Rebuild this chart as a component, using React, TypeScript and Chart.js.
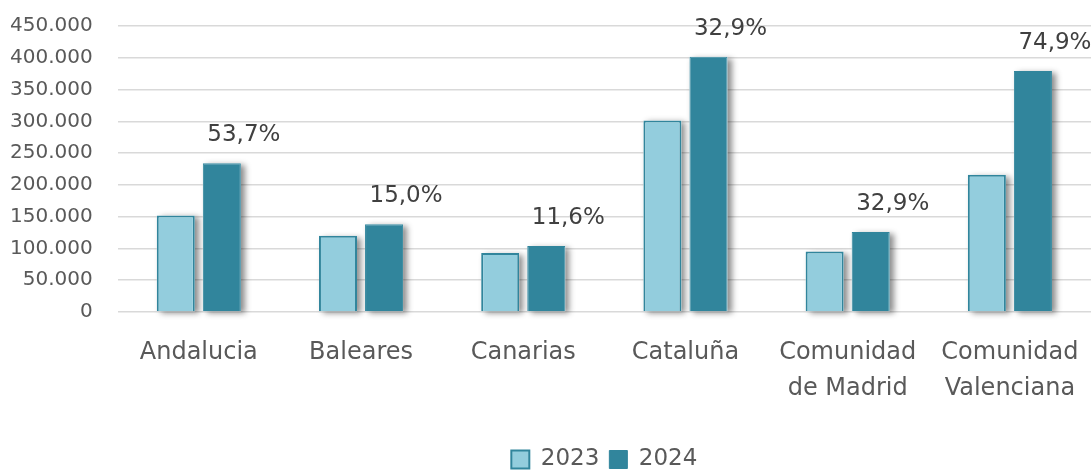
import React, { useEffect, useRef } from "react";
import { Chart, registerables } from "chart.js";

Chart.register(...registerables);

const categories: (string | string[])[] = [
  "Andalucia",
  "Baleares",
  "Canarias",
  "Cataluña",
  ["Comunidad", "de Madrid"],
  ["Comunidad", "Valenciana"],
];
const values2023 = [152000, 120000, 93000, 301500, 95000, 216000];
const values2024 = [234000, 138000, 104000, 401500, 126000, 379000];
const growthLabels = ["53,7%", "15,0%", "11,6%", "32,9%", "32,9%", "74,9%"];
const seriesNames = ["2023", "2024"];

const FONT = "'DejaVu Sans', sans-serif";
const TEXT = "#595959";

const shadowPlugin = {
  id: "barShadow",
  beforeDatasetsDraw(chart: any) {
    const ctx = chart.ctx;
    ctx.save();
    ctx.shadowColor = "rgba(0,0,0,0.45)";
    ctx.shadowBlur = 6;
    ctx.shadowOffsetX = 4;
    ctx.shadowOffsetY = 2;
    ctx.fillStyle = "#ffffff";
    chart.data.datasets.forEach((_: any, di: number) => {
      const meta = chart.getDatasetMeta(di);
      meta.data.forEach((bar: any) => {
        const { x, y, base, width } = bar.getProps(["x", "y", "base", "width"], true);
        ctx.fillRect(x - width / 2, y, width, base - y);
      });
    });
    ctx.restore();
  },
};

const growthPlugin = {
  id: "growthLabels",
  afterDatasetsDraw(chart: any) {
    const ctx = chart.ctx;
    const meta = chart.getDatasetMeta(1);
    ctx.save();
    ctx.font = `23px ${FONT}`;
    ctx.fillStyle = "#404040";
    ctx.textAlign = "center";
    ctx.textBaseline = "middle";
    meta.data.forEach((bar: any, i: number) => {
      ctx.fillText(growthLabels[i], bar.x + 22, bar.y - 28);
    });
    ctx.restore();
  },
};

export default function App() {
  const ref = useRef<HTMLCanvasElement | null>(null);
  useEffect(() => {
    if (!ref.current) return;
    const chart = new Chart(ref.current, {
      type: "bar",
      data: {
        labels: categories,
        datasets: [
          {
            label: seriesNames[0],
            data: values2023,
            backgroundColor: "#93CDDD",
            borderColor: "#31859C",
            borderWidth: 2,
            categoryPercentage: 0.568,
            barPercentage: 0.826,
          },
          {
            label: seriesNames[1],
            data: values2024,
            backgroundColor: "#31859C",
            borderColor: "#31859C",
            borderWidth: 1,
            categoryPercentage: 0.568,
            barPercentage: 0.826,
          },
        ],
      },
      options: {
        animation: false,
        responsive: false,
        maintainAspectRatio: false,
        layout: { padding: { top: 26, right: 0, left: -15, bottom: -11 } },
        plugins: {
          tooltip: { enabled: false },
          legend: {
            position: "bottom",
            fullSize: false,
            labels: {
              font: { family: FONT, size: 23 },
              color: TEXT,
              boxWidth: 18,
              boxHeight: 18,
              padding: 10,
            },
          },
        },
        scales: {
          x: {
            grid: { display: false, drawTicks: false },
            border: { display: false },
            afterFit: (scale: any) => {
              scale.height += 8;
              scale.paddingLeft = 0;
              scale.paddingRight = 0;
            },
            ticks: {
              font: { family: FONT, size: 24, lineHeight: 1.5 },
              color: TEXT,
              padding: 23,
              maxRotation: 0,
              autoSkip: false,
            },
          },
          y: {
            min: 0,
            max: 450000,
            grid: { color: "#D9D9D9", lineWidth: 1.5, drawTicks: false },
            border: { display: false },
            afterFit: (scale: any) => {
              scale.paddingTop = 0;
              scale.paddingBottom = 0;
            },
            ticks: {
              stepSize: 50000,
              font: { family: FONT, size: 20 },
              color: TEXT,
              padding: 25,
              callback: (v: any) =>
                Number(v).toString().replace(/\B(?=(\d{3})+(?!\d))/g, "."),
            },
          },
        },
      },
      plugins: [shadowPlugin, growthPlugin],
    });
    return () => chart.destroy();
  }, []);
  return (
    <div style={{ position: "fixed", left: 0, top: 0, width: 1091, height: 470, background: "#fff" }}>
      <canvas ref={ref} width={1091} height={470} style={{ width: 1091, height: 470 }} />
    </div>
  );
}
